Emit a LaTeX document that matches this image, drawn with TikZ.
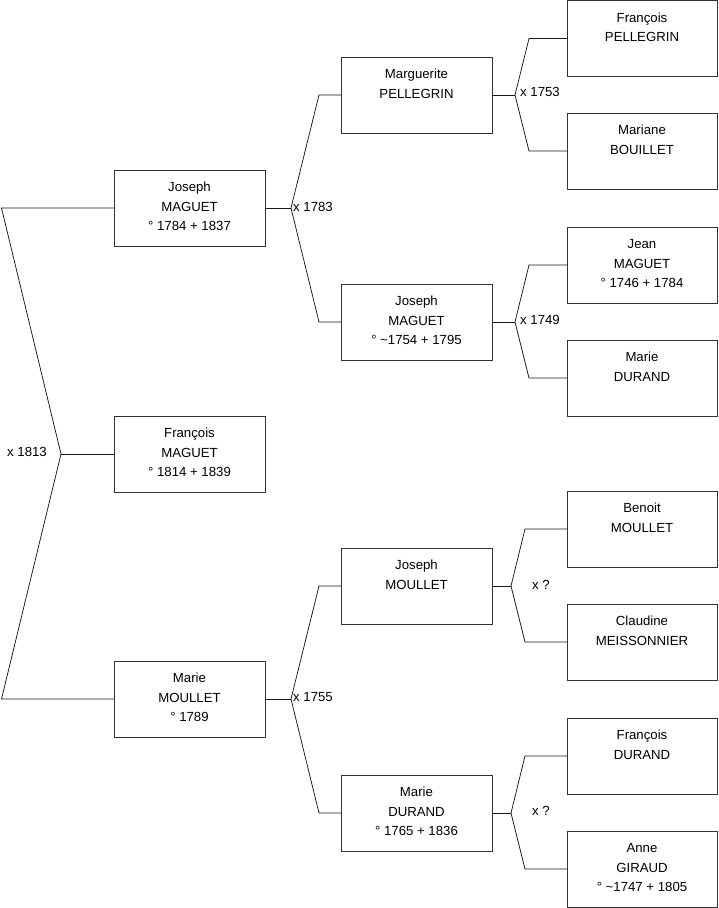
\documentclass[tikz,border=0pt]{standalone}
\usepackage{fontspec}
\setmainfont{Liberation Sans}
\tikzset{
  person/.style={draw=black!80, line width=0.9pt, rectangle, anchor=north west, inner sep=0pt, outer sep=0pt},
  link/.style={draw=black!90, line width=0.75pt},
  marr/.style={anchor=base west, inner sep=0pt, font=\fontsize{13.2pt}{19.5pt}\selectfont}
}
\newcommand{\pcontent}[2][151pt]{\begin{minipage}[t][76pt][t]{#1}\centering\fontsize{13.2pt}{19.5pt}\selectfont\rule{0pt}{21.7pt}#2\end{minipage}}
\begin{document}
\begin{tikzpicture}[x=1pt,y=-1pt]
\useasboundingbox (0,0) rectangle (719,908);
% column 1
\node[person] (jm) at (114,170) {\pcontent{Joseph\\MAGUET\\° 1784 + 1837}};
\node[person] (fm) at (114,416) {\pcontent{François\\MAGUET\\° 1814 + 1839}};
\node[person] (mm) at (114,661) {\pcontent{Marie\\MOULLET\\° 1789}};
% column 2
\node[person] (mp) at (341,57) {\pcontent{Marguerite\\PELLEGRIN}};
\node[person] (jm2) at (341,284) {\pcontent{Joseph\\MAGUET\\° \textasciitilde1754 + 1795}};
\node[person] (jmo) at (341,548) {\pcontent{Joseph\\MOULLET}};
\node[person] (md) at (341,775) {\pcontent{Marie\\DURAND\\° 1765 + 1836}};
% column 3
\node[person] (fp) at (567,0.5) {\pcontent[150pt]{François\\PELLEGRIN}};
\node[person] (mb) at (567,113) {\pcontent[150pt]{Mariane\\BOUILLET}};
\node[person] (jma) at (567,227) {\pcontent[150pt]{Jean\\MAGUET\\° 1746 + 1784}};
\node[person] (mdu) at (567,340) {\pcontent[150pt]{Marie\\DURAND}};
\node[person] (bm) at (567,491) {\pcontent[150pt]{Benoit\\MOULLET}};
\node[person] (cm) at (567,604) {\pcontent[150pt]{Claudine\\MEISSONNIER}};
\node[person] (fd) at (567,718) {\pcontent[150pt]{François\\DURAND}};
\node[person] (ag) at (567,831) {\pcontent[150pt]{Anne\\GIRAUD\\° \textasciitilde1747 + 1805}};

% bracket points
\coordinate (k0) at (61,454);
\coordinate (k0t) at (1.5,208);
\coordinate (k0b) at (1.5,699);
\coordinate (k1) at (291,208);
\coordinate (k2) at (291,699);
\coordinate (k3) at (515,95);
\coordinate (k4) at (515,322);
\coordinate (k5) at (511,586);
\coordinate (k6) at (511,813);

% connectors
\draw[link] (jm.west) -- (k0t) -- (k0) -- (k0b) -- (mm.west);
\draw[link] (k0) -- (fm.west);
\draw[link] (mp.west) -- ([xshift=-22pt]mp.west) -- (k1) -- ([xshift=-22pt]jm2.west) -- (jm2.west);
\draw[link] (jm.east) -- (k1);
\draw[link] (jmo.west) -- ([xshift=-22pt]jmo.west) -- (k2) -- ([xshift=-22pt]md.west) -- (md.west);
\draw[link] (mm.east) -- (k2);
\draw[link] (fp.west) -- ([xshift=-38pt]fp.west) -- (k3) -- ([xshift=-38pt]mb.west) -- (mb.west);
\draw[link] (mp.east) -- (k3);
\draw[link] (jma.west) -- ([xshift=-38pt]jma.west) -- (k4) -- ([xshift=-38pt]mdu.west) -- (mdu.west);
\draw[link] (jm2.east) -- (k4);
\draw[link] (bm.west) -- ([xshift=-42pt]bm.west) -- (k5) -- ([xshift=-42pt]cm.west) -- (cm.west);
\draw[link] (jmo.east) -- (k5);
\draw[link] (fd.west) -- ([xshift=-42pt]fd.west) -- (k6) -- ([xshift=-42pt]ag.west) -- (ag.west);
\draw[link] (md.east) -- (k6);

% marriage labels
\node[marr] (l0) at (7,456.5) {x 1813};
\node[marr] (l1) at (293,211) {x 1783};
\node[marr] (l2) at (293,701.5) {x 1755};
\node[marr] (l3) at (520,96.5) {x 1753};
\node[marr] (l4) at (520,324) {x 1749};
\node[marr] (l5) at (532,589.5) {x ?};
\node[marr] (l6) at (532,815.5) {x ?};
\end{tikzpicture}
\end{document}
